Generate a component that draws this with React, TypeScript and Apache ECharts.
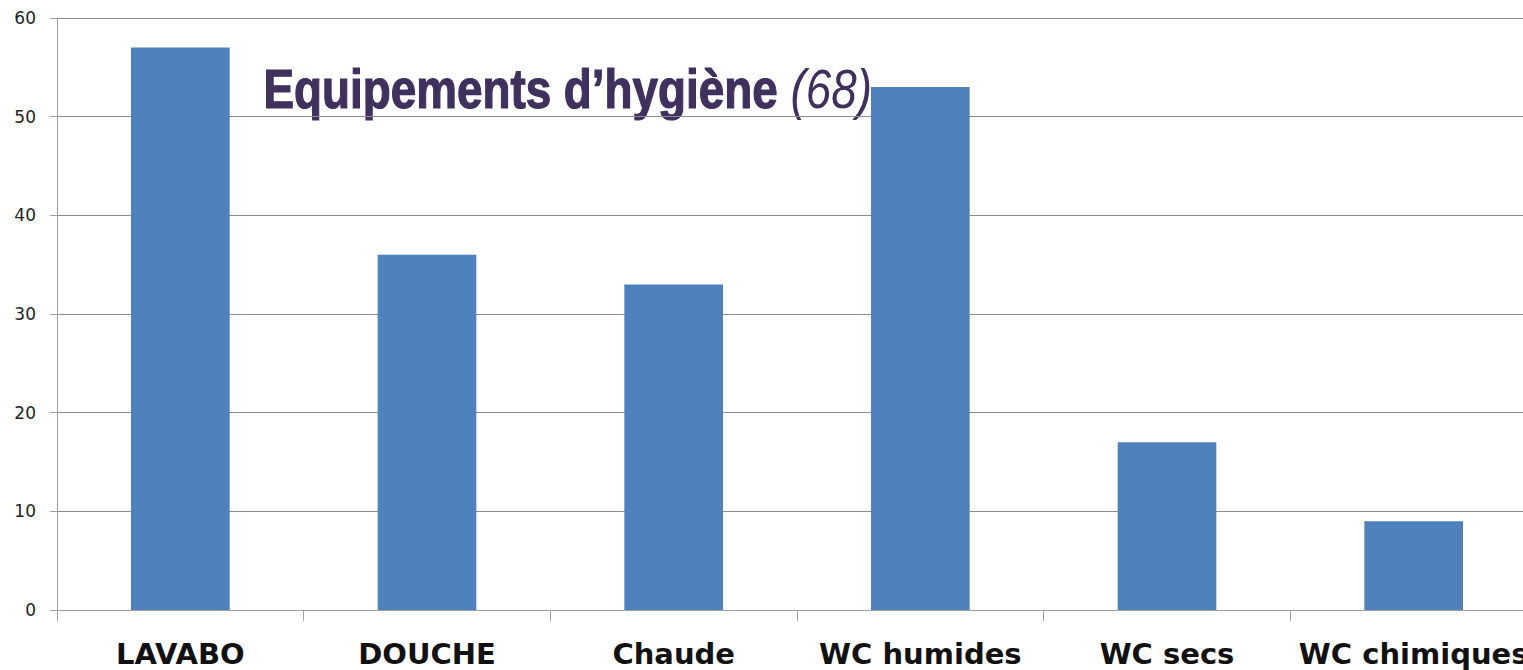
import React, { useEffect, useRef } from "react";
import * as echarts from "echarts";

const categories = ["LAVABO", "DOUCHE", "Chaude", "WC humides", "WC secs", "WC chimiques"];
const values = [57, 36, 33, 53, 17, 9];
const yMin = 0;
const yMax = 60;
const yInterval = 10;
const titleMain = "Equipements d\u2019hygi\u00e8ne ";
const titleCount = "(68)";

export default function App() {
  const ref = useRef<HTMLDivElement>(null);
  useEffect(() => {
    if (!ref.current) return;
    const chart = echarts.init(ref.current, null, { renderer: "svg" });
    chart.setOption({
      animation: false,
      backgroundColor: "#ffffff",
      grid: {
        left: 57,
        top: 18,
        bottom: 60,
        width: 1480,
        containLabel: false,
        outerBoundsMode: "none",
      },
      xAxis: {
        type: "category",
        data: categories,
        axisLine: { show: true, lineStyle: { color: "#a0a0a0", width: 1 } },
        axisTick: { show: true, length: 11, alignWithLabel: false, lineStyle: { color: "#a0a0a0" } },
        axisLabel: {
          interval: 0,
          margin: 31,
          color: "#111111",
          fontFamily: "DejaVu Sans",
          fontWeight: "bold",
          fontSize: 29,
          lineHeight: 26,
        },
      },
      yAxis: {
        type: "value",
        min: yMin,
        max: yMax,
        interval: yInterval,
        axisLine: { show: true, lineStyle: { color: "#a0a0a0" } },
        axisTick: { show: true, length: 7, lineStyle: { color: "#a0a0a0" } },
        splitLine: { show: true, lineStyle: { color: "#8c8c8c", width: 1 } },
        axisLabel: {
          margin: 21,
          color: "#222222",
          fontFamily: "DejaVu Sans",
          fontSize: 17,
        },
      },
      series: [
        {
          type: "bar",
          data: values,
          barWidth: "40%",
          itemStyle: { color: "#4f81bd" },
        },
      ],
      graphic: [
        {
          type: "text",
          left: 263,
          top: 61,
          scaleX: 0.833,
          style: {
            text: "{a|" + titleMain + "}{b|" + titleCount + "}",
            rich: {
              a: {
                fontFamily: "Liberation Sans",
                fontWeight: "bold",
                fontSize: 55,
                fill: "#3f305e",
                stroke: "#3f305e",
                lineWidth: 1.2,
              },
              b: {
                fontFamily: "Liberation Sans",
                fontStyle: "italic",
                fontWeight: "normal",
                fontSize: 55,
                fill: "#3f305e",
              },
            },
          },
        },
      ],
    });
    return () => chart.dispose();
  }, []);
  return (
    <div
      ref={ref}
      style={{ position: "fixed", left: 0, top: 0, width: 1523, height: 670, overflow: "hidden" }}
    />
  );
}
